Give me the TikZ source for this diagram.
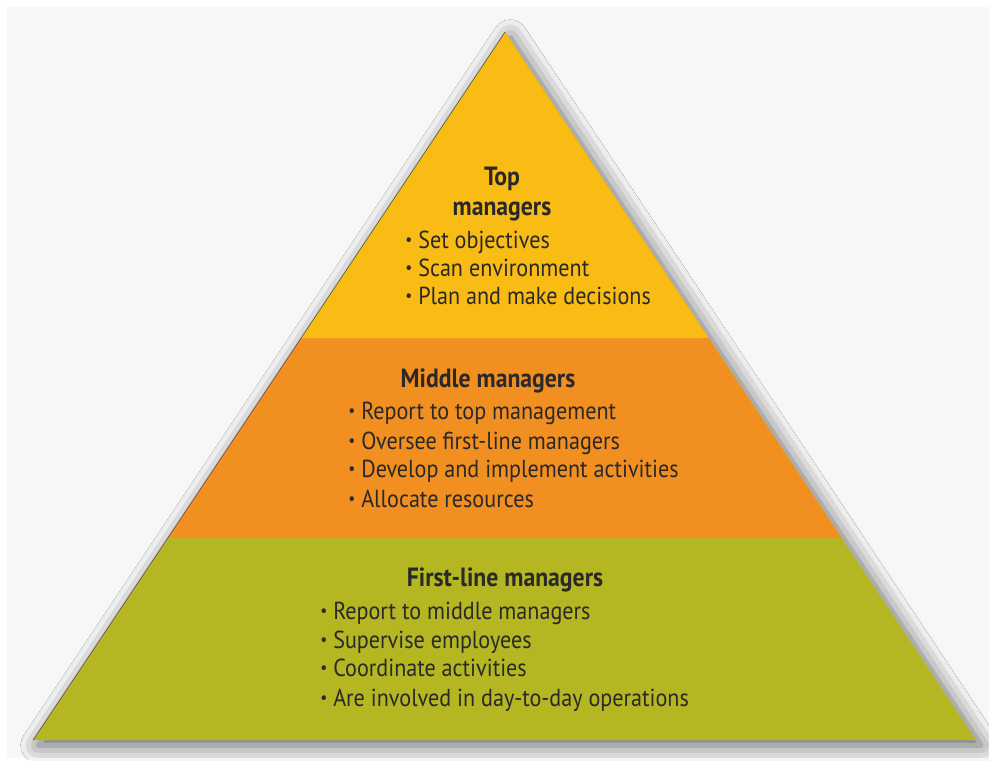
\documentclass[tikz,border=0pt]{standalone}
\usepackage{fontspec}
\usepackage{graphicx}
\setmainfont{PT Sans}[FakeStretch=0.9]
\usetikzlibrary{calc,shadows.blur}

\definecolor{paper}{HTML}{F7F7F7}
\definecolor{topfill}{HTML}{F9BC15}
\definecolor{midfill}{HTML}{F18F21}
\definecolor{lowfill}{HTML}{B4B722}
\definecolor{ink}{HTML}{2A2828}

% small round bullet
\newcommand{\itemdot}{\raisebox{0.12em}{\scalebox{0.7}{\textbullet}}\ }

\begin{document}
\begin{tikzpicture}[x=0.02cm,y=-0.02cm,
  level/.style={font=\bfseries\fontsize{15}{17}\selectfont, text=ink, align=center, inner sep=0pt},
  item/.style={font=\fontsize{14}{16}\selectfont, text=ink, anchor=mid west, inner sep=0pt}]

\useasboundingbox (0,0) rectangle (989,760);
\fill[white] (0,0) rectangle (989,760);
\fill[paper] (7,7) rectangle (989,758);

\coordinate (apex) at (505,32);
\coordinate (bl) at (33,740);
\coordinate (br) at (976,740);

% whole pyramid, with its shadow
\fill[lowfill, blur shadow={shadow xshift=3pt, shadow yshift=-3pt, shadow blur radius=10pt, shadow opacity=60}]
  (apex) -- (br) -- (bl) -- cycle;

% middle and top bands
\fill[midfill] (apex) -- ($(apex)!0.7133!(br)$) -- ($(apex)!0.7133!(bl)$) -- cycle;
\fill[topfill] (apex) -- ($(apex)!0.4322!(br)$) -- ($(apex)!0.4322!(bl)$) -- cycle;

\draw[black!65, line width=0.4pt] (apex) -- (bl);

% top managers
\node[level] (top) at (502,194) {Top\\managers};
\node[item] (top1) at (405,244) {\itemdot Set objectives};
\node[item] (top2) at (405,272) {\itemdot Scan environment};
\node[item] (top3) at (405,300) {\itemdot Plan and make decisions};

% middle managers
\node[level] (mid) at (488,381) {Middle managers};
\node[item] (mid1) at (348,415) {\itemdot Report to top management};
\node[item] (mid2) at (348,445) {\itemdot Oversee first-line managers};
\node[item] (mid3) at (348,473) {\itemdot Develop and implement activities};
\node[item] (mid4) at (348,503) {\itemdot Allocate resources};

% first-line managers
\node[level] (low) at (505,580) {First-line managers};
\node[item] (low1) at (320,615) {\itemdot Report to middle managers};
\node[item] (low2) at (320,644) {\itemdot Supervise employees};
\node[item] (low3) at (320,672) {\itemdot Coordinate activities};
\node[item] (low4) at (320,702) {\itemdot Are involved in day-to-day operations};

\end{tikzpicture}
\end{document}
